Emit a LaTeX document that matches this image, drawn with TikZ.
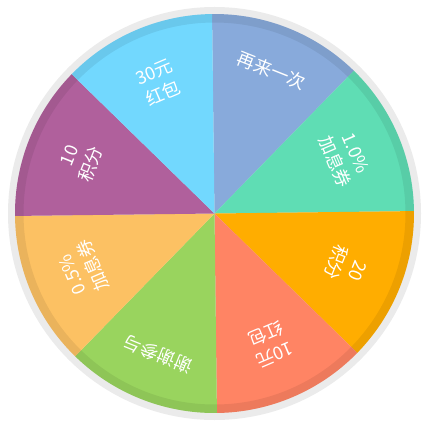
\documentclass[tikz,border=0pt]{standalone}
\usepackage{fontspec}
\setmainfont{Noto Sans CJK SC}
\definecolor{cA}{HTML}{88AADB}
\definecolor{cB}{HTML}{5FDDB4}
\definecolor{cC}{HTML}{FFAD00}
\definecolor{cD}{HTML}{FF8464}
\definecolor{cE}{HTML}{99D45E}
\definecolor{cF}{HTML}{FCC163}
\definecolor{cG}{HTML}{B0609C}
\definecolor{cH}{HTML}{72D8FE}
\definecolor{ringgrey}{HTML}{EBEBEB}
\tikzset{lbl/.style={text=white, align=center, inner sep=0pt, font=\fontsize{18}{23}\selectfont}}
\begin{document}
\begin{tikzpicture}[x=1pt,y=1pt]
\useasboundingbox (0,0) rectangle (427,426);
\coordinate (c) at (214.5,212.5);
\fill[ringgrey] (c) circle (206.5);
\begin{scope}[rotate around={0.7:(c)}]
\foreach \a/\col in {45/cA,0/cB,-45/cC,-90/cD,-135/cE,-180/cF,-225/cG,-270/cH}{
  \fill[\col] (c) -- ++(\a:199.5) arc[start angle=\a, end angle=\a+45, radius=199.5] -- cycle;
}
\fill[black, opacity=0.07, even odd rule] (c) circle (199.5) (c) circle (191);
\end{scope}
\node[lbl, rotate=-21.8] (t1) at ([shift={(68.2:154)}]c) {再来一次};
\node[lbl, rotate=-66.8] (t2) at ([shift={(23.2:142)}]c) {1.0\%\\加息券};
\node[lbl, rotate=-111.8] (t3) at ([shift={(-21.8:142)}]c) {20\\积分};
\node[lbl, rotate=-156.8] (t4) at ([shift={(-66.8:142)}]c) {10元\\红包};
\node[lbl, rotate=158.2] (t5) at ([shift={(-111.8:152)}]c) {谢谢参与};
\node[lbl, rotate=113.2] (t6) at ([shift={(-156.8:143)}]c) {0.5\%\\加息券};
\node[lbl, rotate=68.2] (t7) at ([shift={(158.2:144)}]c) {10\\积分};
\node[lbl, rotate=23.2] (t8) at ([shift={(113.2:142)}]c) {30元\\红包};
\end{tikzpicture}
\end{document}
